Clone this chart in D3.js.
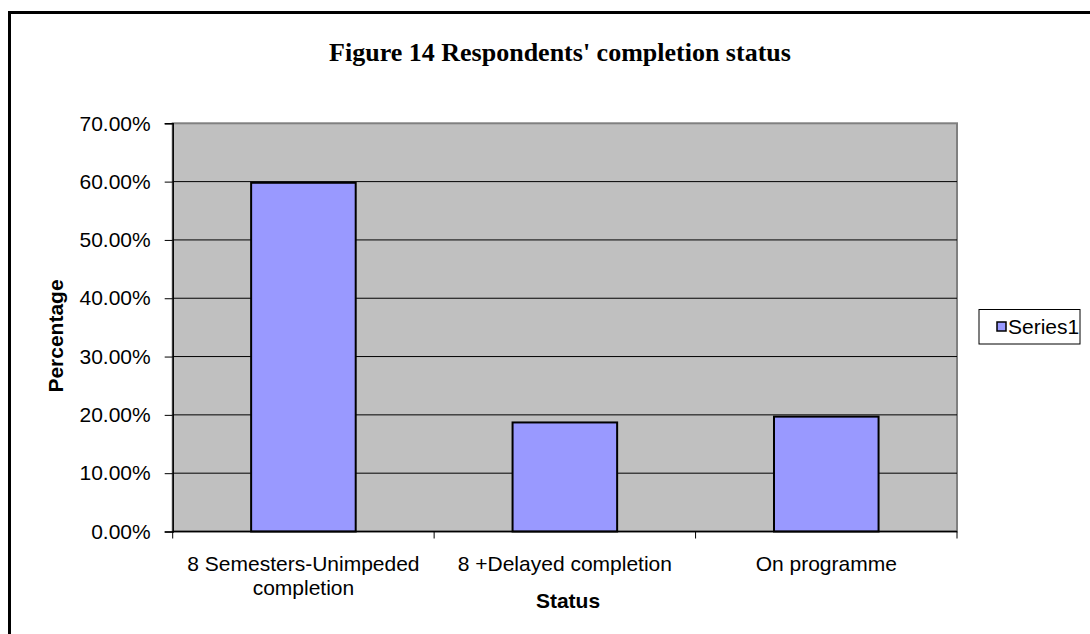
<!DOCTYPE html>
<html>
<head>
<meta charset="utf-8">
<title>Figure 14 Respondents' completion status</title>
<script src="https://cdn.jsdelivr.net/npm/d3@7"></script>
<style>
  body { margin: 0; background: #fff; }
  text { font-family: "Liberation Sans", Arial, sans-serif; fill: #000; }
</style>
</head>
<body>
<svg id="svg"></svg>
<script>
var width = 1090, height = 634;

// chart data
var categories = ["8 Semesters-Unimpeded completion", "8 +Delayed completion", "On programme"];
var values = [0.598, 0.187, 0.197];
var yTicks = [0, 0.1, 0.2, 0.3, 0.4, 0.5, 0.6, 0.7];
var seriesName = "Series1";

var plot = {left: 172.7, right: 957, top: 123.3, bottom: 531.5};

var svg = d3.select("#svg").attr("width", width).attr("height", height);

// outer frame
svg.append("rect")
    .attr("x", 9.5).attr("y", 12.5)
    .attr("width", 1200).attr("height", 800)
    .attr("fill", "#fff").attr("stroke", "#000").attr("stroke-width", 3);

// title
svg.append("text")
    .attr("x", 560).attr("y", 61)
    .attr("text-anchor", "middle")
    .style("font-family", "'Liberation Serif', 'Times New Roman', serif")
    .style("font-weight", "bold")
    .style("font-size", "26px")
    .text("Figure 14 Respondents' completion status");

var x = d3.scaleBand()
    .domain(categories)
    .range([plot.left, plot.right])
    .paddingInner(0.6)
    .paddingOuter(0.3);

var y = d3.scaleLinear()
    .domain([0, 0.7])
    .range([plot.bottom, plot.top]);

// plot background
svg.append("rect")
    .attr("x", plot.left).attr("y", plot.top)
    .attr("width", plot.right - plot.left).attr("height", plot.bottom - plot.top)
    .attr("fill", "#c0c0c0")
    .attr("stroke", "#808080").attr("stroke-width", 2);

// gridlines
svg.append("g")
    .selectAll("line")
    .data(yTicks.filter(function(d) { return d > 0 && d < 0.7; }))
    .enter().append("line")
    .attr("x1", plot.left).attr("x2", plot.right)
    .attr("y1", function(d) { return y(d); })
    .attr("y2", function(d) { return y(d); })
    .attr("stroke", "#000").attr("stroke-width", 1);

// bars
svg.append("g")
    .selectAll("rect")
    .data(values)
    .enter().append("rect")
    .attr("x", function(d, i) { return x(categories[i]); })
    .attr("y", function(d) { return y(d); })
    .attr("width", x.bandwidth())
    .attr("height", function(d) { return y(0) - y(d); })
    .attr("fill", "#9999ff")
    .attr("stroke", "#000").attr("stroke-width", 2);

// y axis
var axisY = d3.axisLeft(y)
    .tickValues(yTicks)
    .tickSize(8)
    .tickPadding(14)
    .tickFormat(d3.format(".2%"));

var gY = svg.append("g")
    .attr("transform", "translate(" + plot.left + ",0)")
    .call(axisY);
gY.select(".domain").attr("stroke", "#000").attr("stroke-width", 1.5);
gY.selectAll(".tick line").attr("stroke", "#000");
gY.selectAll(".tick text")
    .style("font-family", "'Liberation Sans', Arial, sans-serif")
    .style("font-size", "21px").attr("fill", "#000");

// x axis line + category boundary ticks
var step = x.step();
var x0 = plot.left;
svg.append("line")
    .attr("x1", plot.left).attr("x2", plot.right)
    .attr("y1", plot.bottom).attr("y2", plot.bottom)
    .attr("stroke", "#000").attr("stroke-width", 1.5);
svg.append("g")
    .selectAll("line")
    .data(d3.range(categories.length + 1))
    .enter().append("line")
    .attr("x1", function(i) { return x0 + i * step; })
    .attr("x2", function(i) { return x0 + i * step; })
    .attr("y1", plot.bottom).attr("y2", plot.bottom + 7)
    .attr("stroke", "#000");

// category labels, wrapped
var labels = svg.append("g")
    .selectAll("text")
    .data(categories)
    .enter().append("text")
    .attr("text-anchor", "middle")
    .style("font-size", "21px")
    .attr("x", function(d) { return x(d) + x.bandwidth() / 2; })
    .attr("y", 571);

labels.each(function(d) {
    var t = d3.select(this), words = d.split(" "), lines = [], line = [];
    var probe = t.append("tspan");
    words.forEach(function(w) {
        var trial = line.concat([w]).join(" ");
        probe.text(trial);
        if (probe.node().getComputedTextLength() > step - 10 && line.length) {
            lines.push(line.join(" "));
            line = [w];
        } else {
            line.push(w);
        }
    });
    lines.push(line.join(" "));
    probe.remove();
    lines.forEach(function(l, i) {
        t.append("tspan")
            .attr("x", t.attr("x"))
            .attr("dy", i ? 23.5 : 0)
            .text(l);
    });
});

// axis titles
svg.append("text")
    .attr("x", 568).attr("y", 608)
    .attr("text-anchor", "middle")
    .style("font-size", "21px").style("font-weight", "bold")
    .text("Status");

svg.append("text")
    .attr("transform", "translate(63,336)rotate(-90)")
    .attr("text-anchor", "middle")
    .style("font-size", "21px").style("font-weight", "bold")
    .text("Percentage");

// legend
var lg = svg.append("g").attr("transform", "translate(979,309.5)");
lg.append("rect")
    .attr("width", 101).attr("height", 34.5)
    .attr("fill", "#fff").attr("stroke", "#000").attr("stroke-width", 1);
lg.append("rect")
    .attr("x", 18).attr("y", 12.5).attr("width", 9).attr("height", 9)
    .attr("fill", "#9999ff").attr("stroke", "#000").attr("stroke-width", 1.5);
lg.append("text")
    .attr("x", 29).attr("y", 24.5)
    .style("font-size", "21px")
    .text(seriesName);
</script>
</body>
</html>
